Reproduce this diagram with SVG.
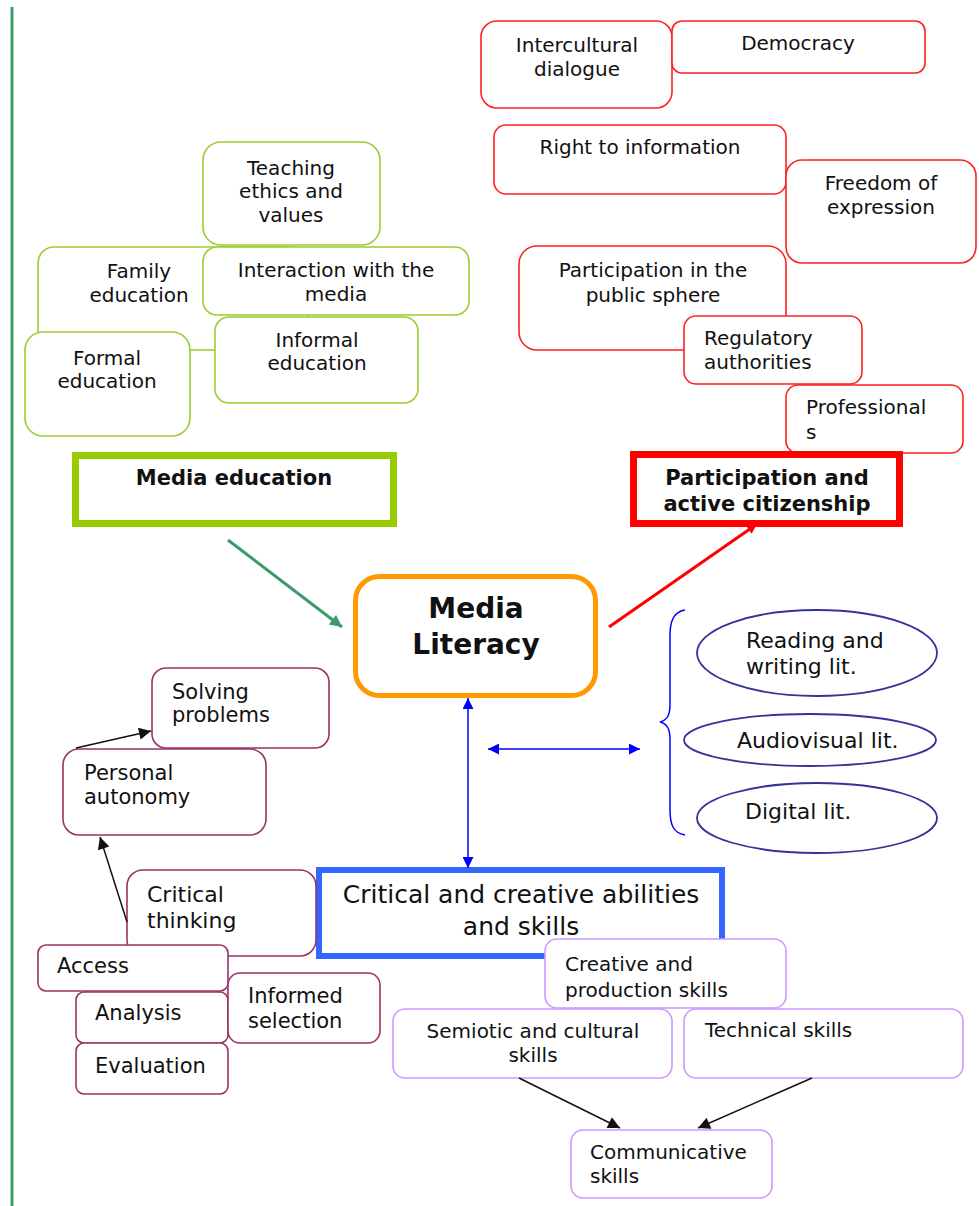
<svg xmlns="http://www.w3.org/2000/svg" width="979" height="1206" viewBox="0 0 979 1206">
<defs>
<style>
text{font-family:"DejaVu Sans","Liberation Sans",sans-serif;font-size:20px;fill:#111}
.c{text-anchor:middle}
.b{font-weight:bold}
.g{fill:#fff;stroke:#9ACD32;stroke-width:1.6}
.r{fill:#fff;stroke:#FF2020;stroke-width:1.6}
.m{fill:#fff;stroke:#993366;stroke-width:1.6}
.p{fill:#fff;stroke:#CC99FF;stroke-width:1.6}
.el{fill:#fff;stroke:#333399;stroke-width:1.8}
.m21{font-size:21px}
.e22{font-size:22px}
</style>
<marker id="aG" viewBox="0 0 10 10" refX="10" refY="5" markerUnits="userSpaceOnUse" markerWidth="15" markerHeight="12" orient="auto"><path d="M0,0 L10,5 L0,10 z" fill="#3A9A6A"/></marker>
<marker id="aR" viewBox="0 0 10 10" refX="10" refY="5" markerUnits="userSpaceOnUse" markerWidth="12" markerHeight="10" orient="auto"><path d="M0,0 L10,5 L0,10 z" fill="#FF0000"/></marker>
<marker id="aB" viewBox="0 0 10 10" refX="10" refY="5" markerUnits="userSpaceOnUse" markerWidth="13" markerHeight="11" orient="auto-start-reverse"><path d="M0,0 L10,5 L0,10 z" fill="#0000FF"/></marker>
<marker id="aK" viewBox="0 0 10 10" refX="10" refY="5" markerUnits="userSpaceOnUse" markerWidth="15" markerHeight="12" orient="auto"><path d="M0,0 L10,5 L0,10 z" fill="#111"/></marker>
</defs>
<rect width="979" height="1206" fill="#fff"/>
<line x1="12" y1="7" x2="12" y2="1206" stroke="#3C9D6E" stroke-width="3"/>

<g id="media-education-cluster">
<g id="family"><rect class="g" x="38" y="247" width="270" height="103" rx="16"/><text class="c" x="139" y="278">Family</text><text class="c" x="139" y="302">education</text></g>
<g id="teaching"><rect class="g" x="203" y="142" width="177" height="103" rx="18"/><text class="c" x="291" y="175">Teaching</text><text class="c" x="291" y="198">ethics and</text><text class="c" x="291" y="222">values</text></g>
<g id="interaction"><rect class="g" x="203" y="247" width="266" height="68" rx="14"/><text class="c" x="336" y="277">Interaction with the</text><text class="c" x="336" y="301">media</text></g>
<g id="informal"><rect class="g" x="215" y="317" width="203" height="86" rx="14"/><text class="c" x="317" y="347">Informal</text><text class="c" x="317" y="370">education</text></g>
<g id="formal"><rect class="g" x="25" y="332" width="165" height="104" rx="18"/><text class="c" x="107" y="365">Formal</text><text class="c" x="107" y="388">education</text></g>
<g id="media-education"><rect x="75.5" y="455.5" width="318" height="68" fill="#fff" stroke="#99CC00" stroke-width="7"/><text class="c b" x="234" y="485" style="font-size:21px">Media education</text></g>
</g>

<g id="citizenship-cluster">
<g id="intercultural"><rect class="r" x="481" y="21" width="191" height="87" rx="16"/><text class="c" x="577" y="52">Intercultural</text><text class="c" x="577" y="76">dialogue</text></g>
<g id="democracy"><rect class="r" x="672" y="21" width="253" height="52" rx="10"/><text class="c" x="798" y="50">Democracy</text></g>
<g id="right-info"><rect class="r" x="494" y="125" width="292" height="69" rx="12"/><text class="c" x="640" y="154">Right to information</text></g>
<g id="freedom"><rect class="r" x="786" y="160" width="190" height="103" rx="16"/><text class="c" x="881" y="190">Freedom of</text><text class="c" x="881" y="214">expression</text></g>
<g id="public-sphere"><rect class="r" x="519" y="246" width="267" height="104" rx="18"/><text class="c" x="653" y="277">Participation in the</text><text class="c" x="653" y="302">public sphere</text></g>
<g id="regulatory"><rect class="r" x="684" y="316" width="178" height="68" rx="12"/><text x="704" y="345">Regulatory</text><text x="704" y="369">authorities</text></g>
<g id="professionals"><rect class="r" x="786" y="385" width="177" height="68" rx="12"/><text x="806" y="414">Professional</text><text x="806" y="439">s</text></g>
<g id="participation"><rect x="633.5" y="454.5" width="266" height="69" fill="#fff" stroke="#FF0000" stroke-width="7"/><text class="c b" x="767" y="485" style="font-size:21px">Participation and</text><text class="c b" x="767" y="511" style="font-size:21px">active citizenship</text></g>
</g>

<g id="media-literacy"><rect x="355.5" y="576.5" width="240" height="119" rx="24" fill="#fff" stroke="#FF9900" stroke-width="5"/><text class="c b" x="476" y="618" style="font-size:28px">Media</text><text class="c b" x="476" y="654" style="font-size:28px">Literacy</text></g>

<g id="literacies">
<path d="M685,610 C673,612 670,622 670,636 L670,704 C670,714 668,720 660,722 C668,724 670,730 670,740 L670,810 C670,824 673,833 685,835" fill="none" stroke="#0000FF" stroke-width="1.5"/>
<g id="reading"><ellipse class="el" cx="817" cy="653" rx="120" ry="43"/><text class="e22" x="746" y="648">Reading and</text><text class="e22" x="746" y="674">writing lit.</text></g>
<g id="audiovisual"><ellipse class="el" cx="810" cy="740" rx="126" ry="26"/><text class="e22" x="737" y="748">Audiovisual lit.</text></g>
<g id="digital"><ellipse class="el" cx="817" cy="818" rx="120" ry="35"/><text class="e22" x="745" y="819">Digital lit.</text></g>
</g>

<g id="abilities"><rect x="319" y="870" width="403" height="86" fill="#fff" stroke="#3366FF" stroke-width="6"/><text class="c" x="521" y="903" style="font-size:25px">Critical and creative abilities</text><text class="c" x="521" y="935" style="font-size:25px">and skills</text></g>

<g id="critical-cluster">
<g id="solving"><rect class="m" x="152" y="668" width="177" height="80" rx="14"/><text class="m21" x="172" y="699">Solving</text><text class="m21" x="172" y="722">problems</text></g>
<g id="personal"><rect class="m" x="63" y="749" width="203" height="86" rx="16"/><text class="m21" x="84" y="780">Personal</text><text class="m21" x="84" y="804">autonomy</text></g>
<g id="critical"><rect class="m" x="127" y="870" width="189" height="86" rx="16"/><text x="147" y="902" style="font-size:22px">Critical</text><text x="147" y="928" style="font-size:22px">thinking</text></g>
<g id="access"><rect class="m" x="38" y="945" width="190" height="46" rx="8"/><text class="m21" x="57" y="973">Access</text></g>
<g id="analysis"><rect class="m" x="76" y="992" width="152" height="51" rx="8"/><text class="m21" x="95" y="1020">Analysis</text></g>
<g id="evaluation"><rect class="m" x="76" y="1043" width="152" height="51" rx="8"/><text class="m21" x="95" y="1073">Evaluation</text></g>
<g id="informed"><rect class="m" x="228" y="973" width="152" height="70" rx="12"/><text class="m21" x="248" y="1003">Informed</text><text class="m21" x="248" y="1028">selection</text></g>
</g>

<g id="skills-cluster">
<g id="creative"><rect class="p" x="545" y="939" width="241" height="69" rx="12"/><text x="565" y="971">Creative and</text><text x="565" y="997">production skills</text></g>
<g id="semiotic"><rect class="p" x="393" y="1009" width="279" height="69" rx="12"/><text class="c" x="533" y="1038">Semiotic and cultural</text><text class="c" x="533" y="1062">skills</text></g>
<g id="technical"><rect class="p" x="684" y="1009" width="279" height="69" rx="12"/><text x="705" y="1037">Technical skills</text></g>
<g id="communicative"><rect class="p" x="571" y="1130" width="201" height="68" rx="12"/><text x="590" y="1159">Communicative</text><text x="590" y="1183">skills</text></g>
</g>

<g id="connectors" fill="none">
<line x1="228" y1="540" x2="342" y2="627" stroke="#3A9A6A" stroke-width="3" marker-end="url(#aG)"/>
<line x1="609" y1="627" x2="757" y2="524" stroke="#FF0000" stroke-width="3" marker-end="url(#aR)"/>
<line x1="468" y1="698" x2="468" y2="868" stroke="#0000FF" stroke-width="1.5" marker-start="url(#aB)" marker-end="url(#aB)"/>
<line x1="488" y1="749" x2="640" y2="749" stroke="#0000FF" stroke-width="1.5" marker-start="url(#aB)" marker-end="url(#aB)"/>
<line x1="76" y1="748" x2="151" y2="731" stroke="#111" stroke-width="1.5" marker-end="url(#aK)"/>
<line x1="127" y1="922" x2="100" y2="837" stroke="#111" stroke-width="1.5" marker-end="url(#aK)"/>
<line x1="519" y1="1078" x2="620" y2="1128" stroke="#111" stroke-width="1.5" marker-end="url(#aK)"/>
<line x1="812" y1="1078" x2="698" y2="1128" stroke="#111" stroke-width="1.5" marker-end="url(#aK)"/>
</g>
</svg>
